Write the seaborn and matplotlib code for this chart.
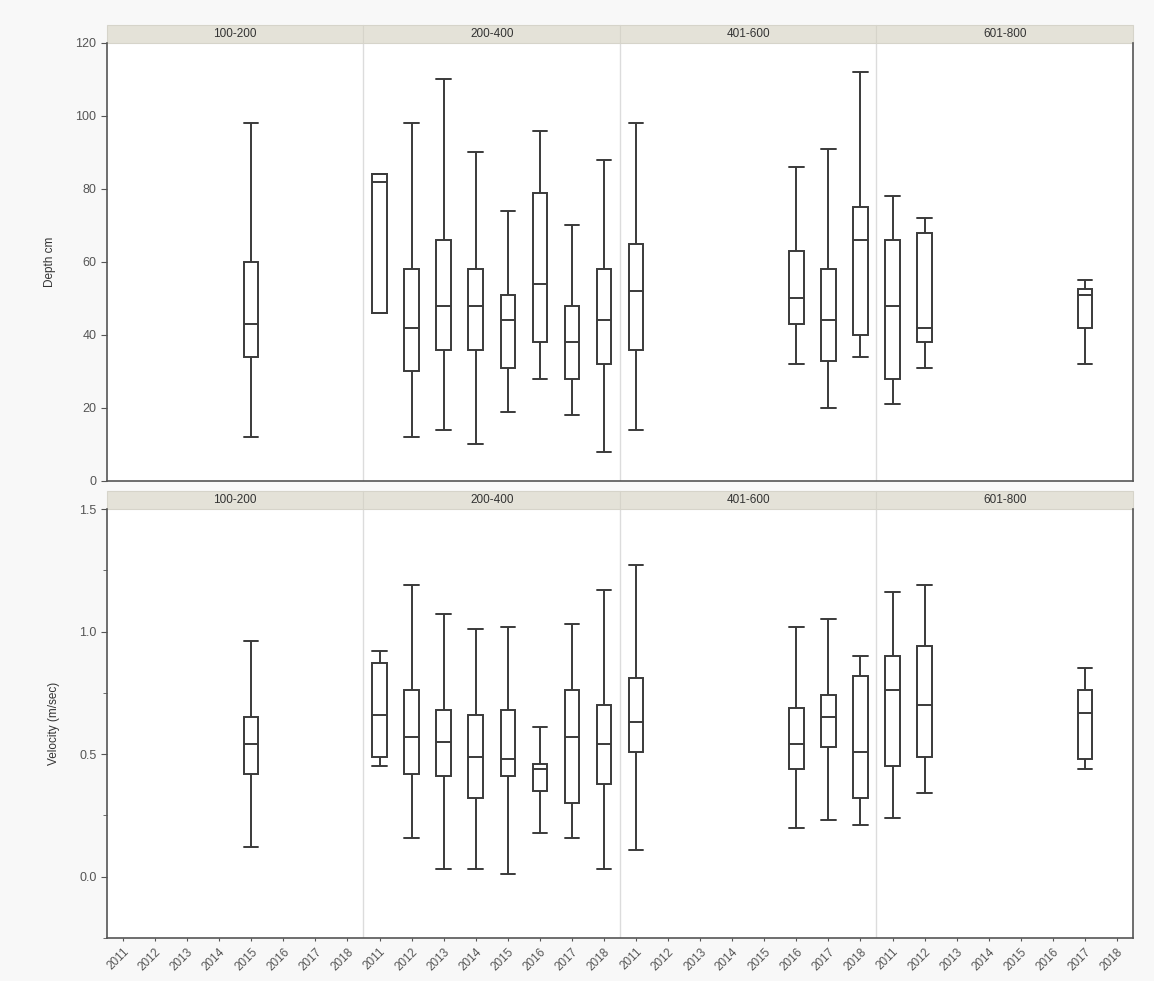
import numpy as np
import pandas as pd
import matplotlib.pyplot as plt
import matplotlib.patches as mpatches
import seaborn as sns

sns.set_style("ticks")
plt.rcParams['font.family'] = ['Liberation Sans', 'DejaVu Sans']

groups = ["100-200", "200-400", "401-600", "601-800"]
years = ["2011", "2012", "2013", "2014", "2015", "2016", "2017", "2018"]

# boxes that exist (same in both panels)
box_group = ["100-200"] + ["200-400"] * 8 + ["401-600"] * 4 + ["601-800"] * 3
box_year = ["2015",
            "2011", "2012", "2013", "2014", "2015", "2016", "2017", "2018",
            "2011", "2016", "2017", "2018",
            "2011", "2012", "2017"]

# depth (cm): min, q1, median, q3, max
depth_min = [12, 46, 12, 14, 10, 19, 28, 18, 8, 14, 32, 20, 34, 21, 31, 32]
depth_q1 = [34, 46, 30, 36, 36, 31, 38, 28, 32, 36, 43, 33, 40, 28, 38, 42]
depth_med = [43, 82, 42, 48, 48, 44, 54, 38, 44, 52, 50, 44, 66, 48, 42, 51]
depth_q3 = [60, 84, 58, 66, 58, 51, 79, 48, 58, 65, 63, 58, 75, 66, 68, 52.5]
depth_max = [98, 84, 98, 110, 90, 74, 96, 70, 88, 98, 86, 91, 112, 78, 72, 55]

# velocity (m/sec): min, q1, median, q3, max
vel_min = [0.12, 0.45, 0.16, 0.03, 0.03, 0.01, 0.18, 0.16, 0.03, 0.11, 0.20, 0.23, 0.21, 0.24, 0.34, 0.44]
vel_q1 = [0.42, 0.49, 0.42, 0.41, 0.32, 0.41, 0.35, 0.30, 0.38, 0.51, 0.44, 0.53, 0.32, 0.45, 0.49, 0.48]
vel_med = [0.54, 0.66, 0.57, 0.55, 0.49, 0.48, 0.44, 0.57, 0.54, 0.63, 0.54, 0.65, 0.51, 0.76, 0.70, 0.67]
vel_q3 = [0.65, 0.87, 0.76, 0.68, 0.66, 0.68, 0.46, 0.76, 0.70, 0.81, 0.69, 0.74, 0.82, 0.90, 0.94, 0.76]
vel_max = [0.96, 0.92, 1.19, 1.07, 1.01, 1.02, 0.61, 1.03, 1.17, 1.27, 1.02, 1.05, 0.90, 1.16, 1.19, 0.85]

slots = [f"{g} {y}" for g in groups for y in years]

rows = []
for i in range(len(box_group)):
    slot = f"{box_group[i]} {box_year[i]}"
    d = [depth_min[i], depth_q1[i], depth_med[i], depth_q3[i], depth_max[i]]
    v = [vel_min[i], vel_q1[i], vel_med[i], vel_q3[i], vel_max[i]]
    for dv, vv in zip(d, v):
        rows.append({"slot": slot, "depth": dv, "velocity": vv})
df = pd.DataFrame(rows)

fig = plt.figure(figsize=(11.54, 9.81), dpi=100, facecolor="#f8f8f8")
ax1 = fig.add_axes([0.0927, 0.5097, 0.8891, 0.4465])
ax2 = fig.add_axes([0.0927, 0.0438, 0.8891, 0.4373])

line_col = "#3a3a3a"
strip_col = "#e4e2d8"

for ax, col in [(ax1, "depth"), (ax2, "velocity")]:
    sns.boxplot(data=df, x="slot", y=col, order=slots, whis=(0, 100),
                width=0.45, color="white", linecolor=line_col, linewidth=1.4,
                capwidths=0.45, ax=ax)
    ax.set_facecolor("white")
    ax.set_xlim(-0.5, len(slots) - 0.5)
    for k in range(1, len(groups)):
        ax.axvline(k * len(years) - 0.5, color="#dcdcdc", lw=1, zorder=0)
    for k, g in enumerate(groups):
        x0 = k * len(years) - 0.5
        ax.add_patch(mpatches.Rectangle((x0, 1.0), len(years), 0.042,
                                        transform=ax.get_xaxis_transform(),
                                        facecolor=strip_col, edgecolor="#d6d4ca",
                                        lw=0.8, clip_on=False))
        ax.text(x0 + len(years) / 2, 1.021, g, transform=ax.get_xaxis_transform(),
                ha="center", va="center", fontsize=8.5, color="#333333")
    ax.spines["top"].set_visible(False)
    for s in ["left", "bottom", "right"]:
        ax.spines[s].set_color("#555555")
        ax.spines[s].set_linewidth(1.2)
    ax.tick_params(axis="y", labelsize=9, colors="#555555", length=4)
    ax.set_xlabel("")

ax1.set_ylim(0, 120)
ax1.set_yticks(range(0, 121, 20))
ax1.set_ylabel("Depth cm", fontsize=8.5, color="#333333", labelpad=14)
ax1.set_xticks(range(len(slots)))
ax1.set_xticklabels([])
ax1.tick_params(axis="x", length=0)

ax2.set_ylim(-0.25, 1.5)
ax2.set_yticks([0.0, 0.5, 1.0, 1.5])
ax2.set_yticklabels(["0.0", "0.5", "1.0", "1.5"])
ax2.set_yticks([-0.25, 0.25, 0.75, 1.25], minor=True)
ax2.tick_params(axis="y", which="minor", length=3, colors="#555555")
ax2.set_ylabel("Velocity (m/sec)", fontsize=8.5, color="#333333", labelpad=14)
ax2.set_xticks(range(len(slots)))
ax2.set_xticklabels([s.split(" ")[1] for s in slots], rotation=45, ha="right",
                    rotation_mode="anchor", fontsize=8.5, color="#444444")
ax2.tick_params(axis="x", length=2, colors="#555555")

fig.savefig("out.png", dpi=100, facecolor=fig.get_facecolor())
